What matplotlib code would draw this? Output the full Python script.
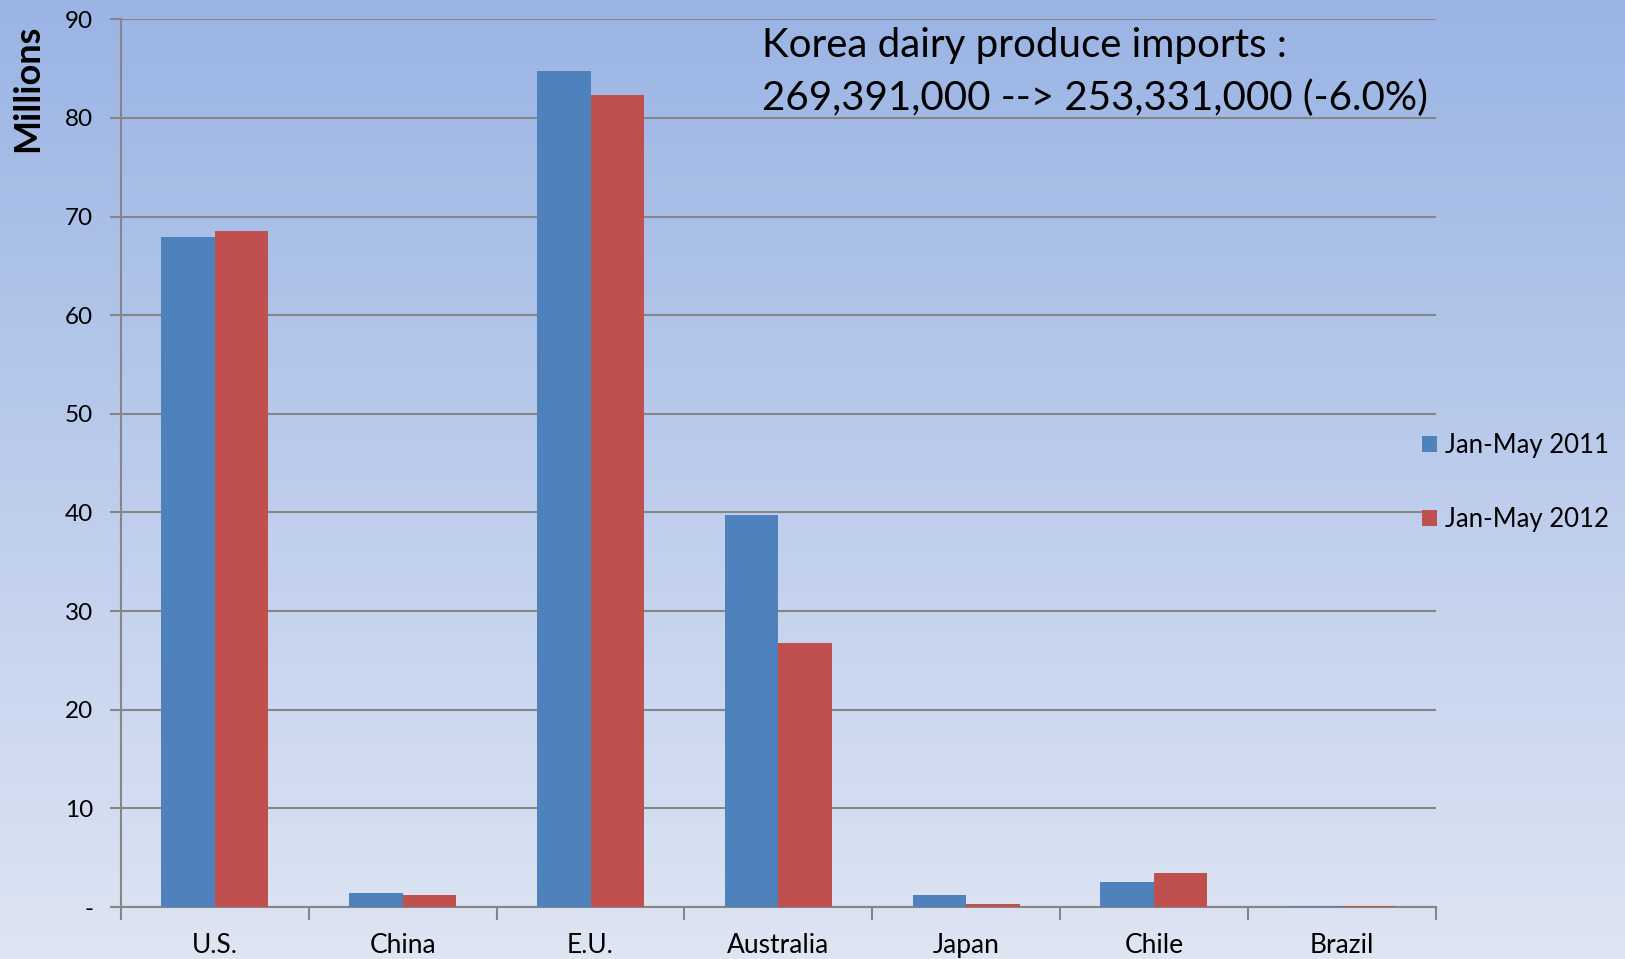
import matplotlib
matplotlib.use("Agg")
import matplotlib.pyplot as plt
import matplotlib.colors as mcolors
import numpy as np

# Korea dairy produce imports by origin, millions
countries = ["U.S.", "China", "E.U.", "Australia", "Japan", "Chile", "Brazil"]
jan_may_2011 = [67.9, 1.4, 84.8, 39.7, 1.2, 2.5, 0.1]
jan_may_2012 = [68.5, 1.2, 82.3, 26.8, 0.3, 3.4, 0.15]
series_labels = ["Jan-May 2011", "Jan-May 2012"]
y_ticks = [0, 10, 20, 30, 40, 50, 60, 70, 80, 90]
y_tick_labels = ["-"] + [str(v) for v in y_ticks[1:]]
note = "Korea dairy produce imports :\n269,391,000 --> 253,331,000 (-6.0%)"

plt.rcParams["font.family"] = ["Lato", "DejaVu Sans"]

fig = plt.figure(figsize=(16.25, 9.59), dpi=100)

# background gradient
bg = fig.add_axes([0, 0, 1, 1], zorder=-10)
cmap = mcolors.LinearSegmentedColormap.from_list("bg", ["#9ab4e4", "#dee5f3"])
bg.imshow(np.linspace(0, 1, 256)[:, None], aspect="auto", cmap=cmap,
          extent=[0, 1, 0, 1])
bg.axis("off")

ax = fig.add_axes([0.0745, 0.0542, 0.8089, 0.9257])
ax.patch.set_alpha(0)

x = np.arange(len(countries))
w = 0.285
b1 = ax.bar(x - w / 2, jan_may_2011, w, color="#4f81bd", label=series_labels[0], zorder=3)
b2 = ax.bar(x + w / 2, jan_may_2012, w, color="#c0504d", label=series_labels[1], zorder=3)

ax.set_xlim(-0.5, len(countries) - 0.5)
ax.set_ylim(0, 90)
ax.set_yticks(y_ticks)
ax.set_yticklabels(y_tick_labels, fontsize=17.5)
ax.yaxis.grid(True, color="#868686", linewidth=1.5, zorder=0)

ax.set_xticks(x)
ax.set_xticklabels(countries, fontsize=19)
ax.tick_params(axis="x", length=0, pad=19)
ax.set_xticks(np.arange(len(countries) + 1) - 0.5, minor=True)
ax.tick_params(axis="x", which="minor", length=9, width=1.5, color="#868686")
ax.tick_params(axis="y", length=8, width=1.5, color="#868686", pad=12)

for s in ["top", "right"]:
    ax.spines[s].set_visible(False)
for s in ["left", "bottom"]:
    ax.spines[s].set_color("#868686")
    ax.spines[s].set_linewidth(1.5)

fig.text(0.0172, 0.908, "Millions", rotation=90, fontsize=26, fontweight="bold",
         ha="center", va="center")

fig.text(0.469, 0.925, note, fontsize=29, ha="left", va="center", linespacing=1.52)

fig.legend(handles=[b1, b2], loc="center left", bbox_to_anchor=(0.875, 0.497),
           frameon=False, fontsize=18.5, handlelength=0.6, handleheight=0.6,
           handletextpad=0.3, labelspacing=1.9, borderpad=0, borderaxespad=0)

fig.savefig("out.png", dpi=100)
